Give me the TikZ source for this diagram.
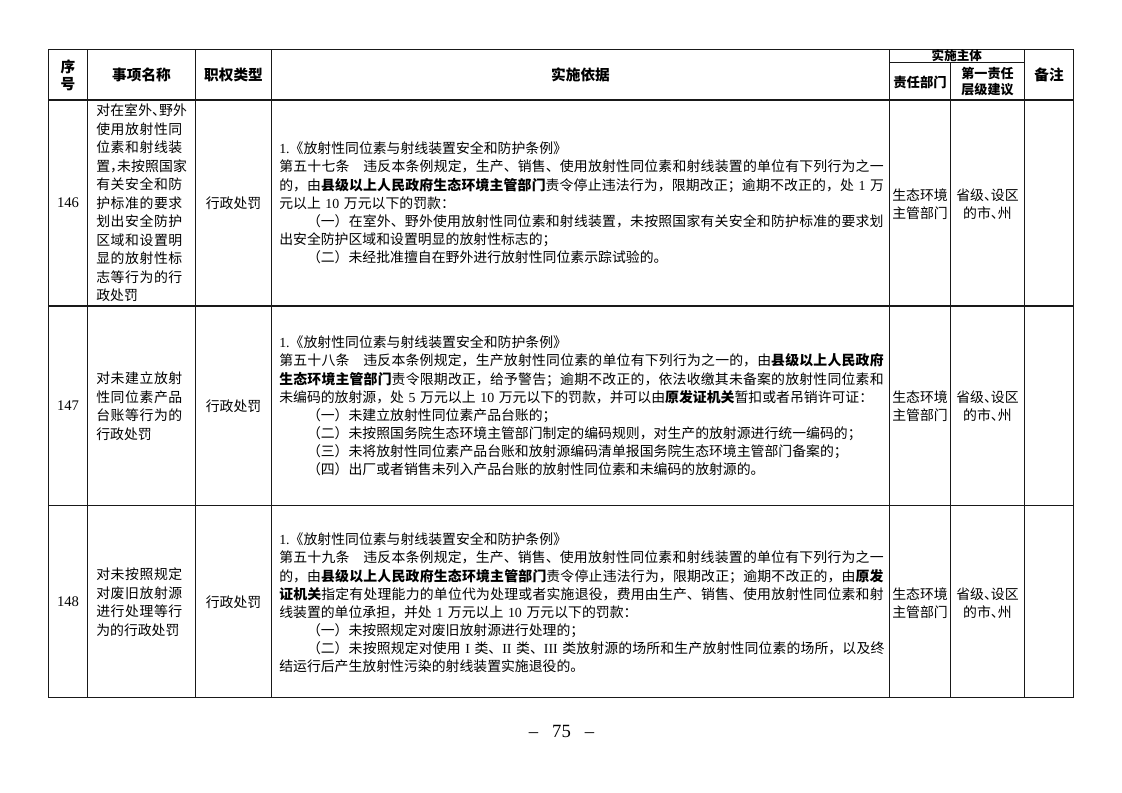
\documentclass[tikz,border=0pt]{standalone}
\usepackage{fontspec}
\setmainfont{Noto Sans CJK SC}
\newfontfamily\lat{Liberation Serif}
\XeTeXlinebreaklocale "zh"
\XeTeXlinebreakskip=0pt plus 2pt minus 0.3pt
\newcommand\bodyfont{\fontsize{10.4pt}{13.6pt}\selectfont}
\newcommand\namefont{\fontsize{10.4pt}{13.9pt}\selectfont}
\newcommand\headfont{\fontsize{11pt}{12.8pt}\selectfont\bfseries}
\newcommand\halfpunct[1]{\makebox[0.5em][l]{#1}}
\begin{document}
\begin{tikzpicture}[x=0.75pt,y=-0.75pt,
  grid/.style={line width=0.8pt,draw=black!90},
  head/.style={font=\headfont,align=center,inner sep=0pt},
  cell/.style={font=\bodyfont,align=center,inner sep=0pt},
  numcell/.style={font=\fontsize{11pt}{13pt}\selectfont\lat,inner sep=0pt},
  namecell/.style={font=\namefont,text width=69pt,anchor=west,inner sep=0pt},
  basis/.style={font=\bodyfont,text width=455pt,anchor=west,inner sep=0pt}]
\useasboundingbox (0,0) rectangle (1122,793);
\fill[white] (0,0) rectangle (1122,793);
% ---- grid ----
\draw[grid] (48.3,49.3) rectangle (1073.3,697.3);
\draw[grid] (48.3,100) -- (1073.3,100);
\draw[grid] (48.3,306) -- (1073.3,306);
\draw[grid] (48.3,505.7) -- (1073.3,505.7);
\draw[grid] (889.3,62.7) -- (1024.3,62.7);
\foreach \xx in {87.7,195.3,271.7,889.3,1024.3}
  \draw[grid] (\xx,49.3) -- (\xx,697.3);
\draw[grid] (950.7,62.7) -- (950.7,697.3);
% ---- header ----
\node[head] (h1) at (68,75) {序\\号};
\node[head] (h2) at (141.5,75) {事项名称};
\node[head] (h3) at (233.5,75) {职权类型};
\node[head] (h4) at (580.5,75) {实施依据};
\node[head,font=\fontsize{9.4pt}{11pt}\selectfont\bfseries] (h5) at (956.8,55.6) {实施主体};
\node[head,font=\fontsize{10pt}{12pt}\selectfont\bfseries] (h6) at (920,82) {责任部门};
\node[head,font=\fontsize{9.8pt}{12pt}\selectfont\bfseries] (h7) at (987.5,81.5) {第一责任\\层级建议};
\node[head] (h8) at (1049,75) {备注};
% ---- row 146 ----
\node[numcell] (n1) at (68,203) {146};
\node[namecell] (m1) at (96,203) {\noindent 对在室外\halfpunct{、}野外\linebreak
使用放射性同\linebreak
位素和射线装\linebreak
置\halfpunct{，}未按照国家\linebreak
有关安全和防\linebreak
护标准的要求\linebreak
划出安全防护\linebreak
区域和设置明\linebreak
显的放射性标\linebreak
志等行为的行\linebreak
政处罚};
\node[cell] (t1) at (233.5,203) {行政处罚};
\node[basis] (b1) at (279,203) {\noindent{\lat 1.}《放射性同位素与射线装置安全和防护条例》\\
第五十七条\hspace{1em}违反本条例规定，生产、销售、使用放射性同位素和射线装置的单位有下列行为之一\linebreak
的，由\textbf{县级以上人民政府生态环境主管部门}责令停止违法行为，限期改正；逾期不改正的，处~{\lat 1}~万\linebreak
元以上~{\lat 10}~万元以下的罚款：\\
\hspace*{2em}（一）在室外、野外使用放射性同位素和射线装置，未按照国家有关安全和防护标准的要求划\linebreak
出安全防护区域和设置明显的放射性标志的；\\
\hspace*{2em}（二）未经批准擅自在野外进行放射性同位素示踪试验的。};
\node[cell] (d1) at (920,204) {生态环境\\主管部门};
\node[cell] (l1) at (987.5,204) {省级\halfpunct{、}设区\\的市\halfpunct{、}州};
% ---- row 147 ----
\node[numcell] (n2) at (68,406) {147};
\node[namecell] (m2) at (96,406) {\noindent 对未建立放射\linebreak
性同位素产品\linebreak
台账等行为的\linebreak
行政处罚};
\node[cell] (t2) at (233.5,406) {行政处罚};
\node[basis] (b2) at (279,406) {\noindent{\lat 1.}《放射性同位素与射线装置安全和防护条例》\\
第五十八条\hspace{1em}违反本条例规定，生产放射性同位素的单位有下列行为之一的，由\textbf{县级以上人民政府}\linebreak
\textbf{生态环境主管部门}责令限期改正，给予警告；逾期不改正的，依法收缴其未备案的放射性同位素和\linebreak
未编码的放射源，处~{\lat 5}~万元以上~{\lat 10}~万元以下的罚款，并可以由\textbf{原发证机关}暂扣或者吊销许可证：\\
\hspace*{2em}（一）未建立放射性同位素产品台账的；\\
\hspace*{2em}（二）未按照国务院生态环境主管部门制定的编码规则，对生产的放射源进行统一编码的；\\
\hspace*{2em}（三）未将放射性同位素产品台账和放射源编码清单报国务院生态环境主管部门备案的；\\
\hspace*{2em}（四）出厂或者销售未列入产品台账的放射性同位素和未编码的放射源的。};
\node[cell] (d2) at (920,406) {生态环境\\主管部门};
\node[cell] (l2) at (987.5,406) {省级\halfpunct{、}设区\\的市\halfpunct{、}州};
% ---- row 148 ----
\node[numcell] (n3) at (68,602) {148};
\node[namecell] (m3) at (96,602) {\noindent 对未按照规定\linebreak
对废旧放射源\linebreak
进行处理等行\linebreak
为的行政处罚};
\node[cell] (t3) at (233.5,602) {行政处罚};
\node[basis] (b3) at (279,603) {\noindent{\lat 1.}《放射性同位素与射线装置安全和防护条例》\\
第五十九条\hspace{1em}违反本条例规定，生产、销售、使用放射性同位素和射线装置的单位有下列行为之一\linebreak
的，由\textbf{县级以上人民政府生态环境主管部门}责令停止违法行为，限期改正；逾期不改正的，由\textbf{原发}\linebreak
\textbf{证机关}指定有处理能力的单位代为处理或者实施退役，费用由生产、销售、使用放射性同位素和射\linebreak
线装置的单位承担，并处~{\lat 1}~万元以上~{\lat 10}~万元以下的罚款：\\
\hspace*{2em}（一）未按照规定对废旧放射源进行处理的；\\
\hspace*{2em}（二）未按照规定对使用~{\lat I}~类、{\lat II}~类、{\lat III}~类放射源的场所和生产放射性同位素的场所，以及终\linebreak
结运行后产生放射性污染的射线装置实施退役的。};
\node[cell] (d3) at (920,603) {生态环境\\主管部门};
\node[cell] (l3) at (987.5,603) {省级\halfpunct{、}设区\\的市\halfpunct{、}州};
% ---- page number ----
\node[inner sep=0pt,font=\fontsize{14pt}{16pt}\selectfont\lat] (pg) at (561.5,731) {–\hspace{0.75em}75\hspace{0.75em}–};
\end{tikzpicture}
\end{document}
